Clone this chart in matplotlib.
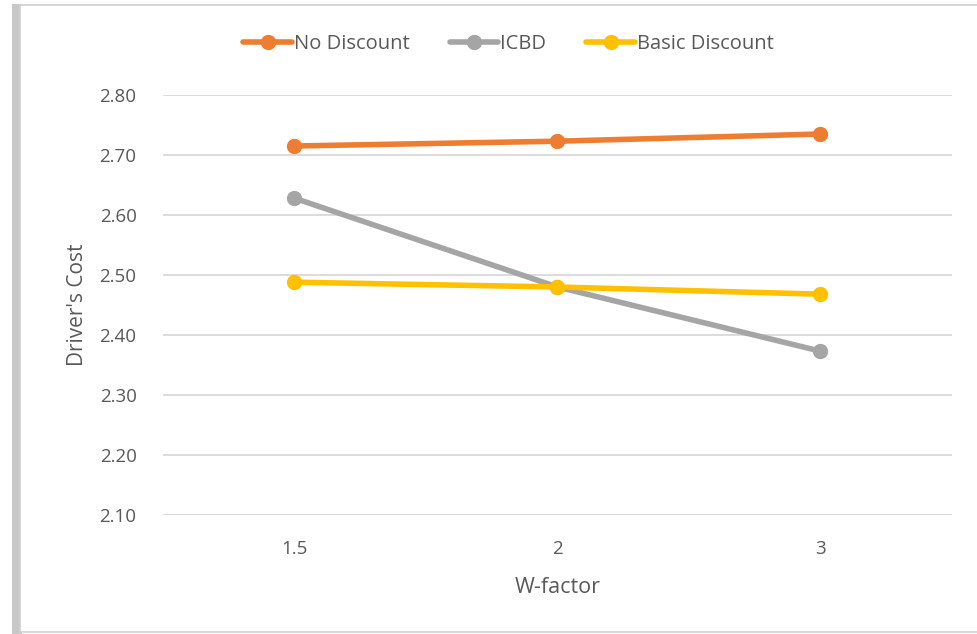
import matplotlib.pyplot as plt
from matplotlib.patches import Rectangle
from matplotlib import font_manager

# W-factor categories and driver's cost per discount scheme
w_factor = ['1.5', '2', '3']
no_discount = [2.715, 2.723, 2.735]
icbd = [2.628, 2.480, 2.373]
basic_discount = [2.488, 2.480, 2.468]

series = [
    ('No Discount', no_discount, '#ED7D31'),
    ('ICBD', icbd, '#A5A5A5'),
    ('Basic Discount', basic_discount, '#FFC000'),
]

names = {f.name for f in font_manager.fontManager.ttflist}
family = 'Liberation Sans Narrow' if 'Liberation Sans Narrow' in names else 'Open Sans'
plt.rcParams['font.family'] = [family, 'DejaVu Sans']
text_color = '#595959'

fig = plt.figure(figsize=(9.78, 6.34), dpi=100)

# chart frame with a soft shadow on the left
fig.patches.append(Rectangle((12 / 978, 0), 10 / 978, 1 - 4 / 634,
                             transform=fig.transFigure, facecolor='#c8c8c8',
                             edgecolor='none', zorder=-2))
fig.patches.append(Rectangle((20 / 978, 2 / 634), 1.0, 1 - 7 / 634,
                             transform=fig.transFigure, facecolor='white',
                             edgecolor='#d0d0d0', linewidth=1.2, zorder=-1))

ax = fig.add_axes([163 / 978, 1 - 515 / 634, (952 - 163) / 978, (515 - 95) / 634])
ax.set_facecolor('none')

x = range(len(w_factor))
for label, values, color in series:
    ax.plot(x, values, color=color, linewidth=4, marker='o', markersize=10,
            label=label, solid_capstyle='round', zorder=3)

ax.set_xlim(-0.5, len(w_factor) - 0.5)
ax.set_ylim(2.10, 2.80)
ax.set_yticks([2.10 + 0.1 * i for i in range(8)])
ax.set_yticklabels([f'{2.10 + 0.1 * i:.2f}' for i in range(8)])
ax.set_xticks(list(x))
ax.set_xticklabels(w_factor)
ax.grid(axis='y', color='#D9D9D9', linewidth=1.3)
ax.set_axisbelow(True)
for side in ['top', 'right', 'left', 'bottom']:
    ax.spines[side].set_visible(False)
ax.tick_params(axis='both', length=0, colors=text_color, labelsize=13.5)
ax.tick_params(axis='y', pad=19)
ax.tick_params(axis='x', pad=18)

ax.set_xlabel('W-factor', color=text_color, fontsize=15.5, labelpad=14)
ax.set_ylabel("Driver's Cost", color=text_color, fontsize=15, labelpad=8)

leg = ax.legend(loc='center', bbox_to_anchor=(0.52, 1 - 44 / 634), ncol=3,
                bbox_transform=fig.transFigure, frameon=False, fontsize=14.5,
                handlelength=2.4, columnspacing=2.0, handletextpad=0.1)
for txt in leg.get_texts():
    txt.set_color(text_color)

fig.savefig('out.png', dpi=100)
